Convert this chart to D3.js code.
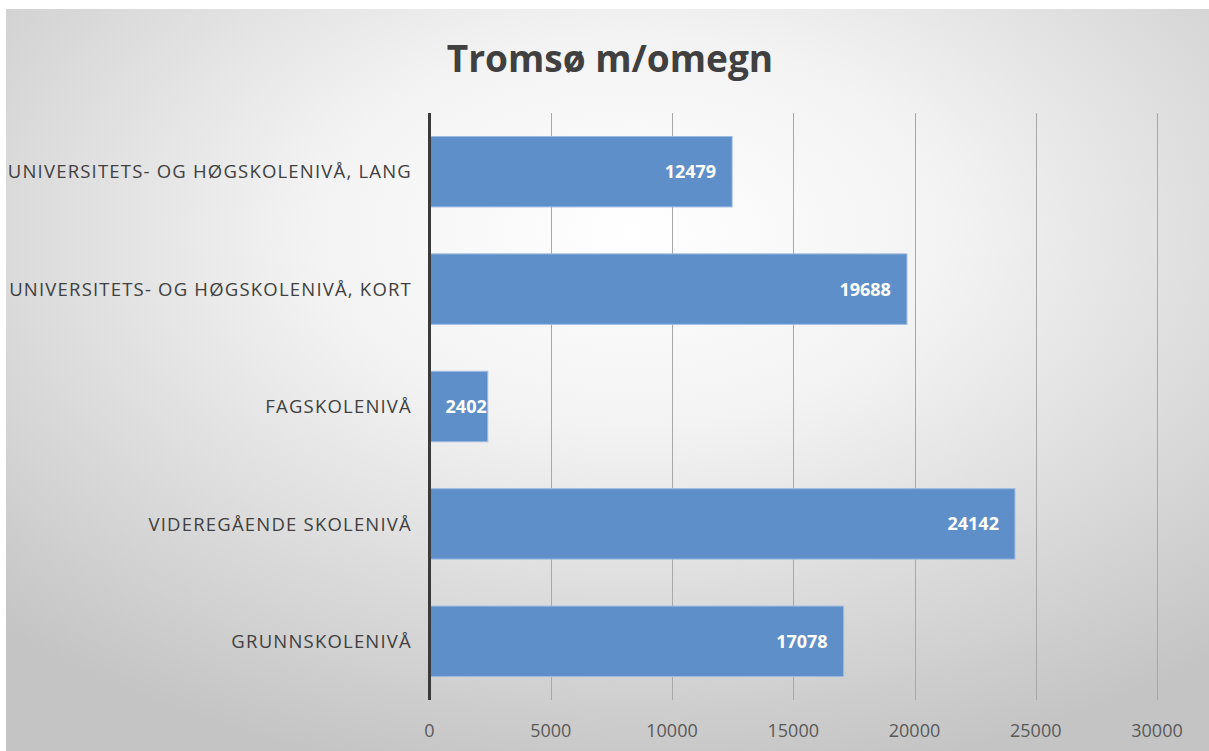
<!DOCTYPE html>
<html>
<head>
<meta charset="utf-8">
<script src="https://cdn.jsdelivr.net/npm/d3@7"></script>
<style>
    body { margin: 0; background: #ffffff; }
    svg { display: block; }
</style>
</head>
<body>
<script>
//execute script when window is loaded
window.onload = function(){

    //SVG dimension variables
    var w = 1209, h = 751;

    //categories, top to bottom
    var categories = [
        "UNIVERSITETS- OG HØGSKOLENIVÅ, LANG",
        "UNIVERSITETS- OG HØGSKOLENIVÅ, KORT",
        "FAGSKOLENIVÅ",
        "VIDEREGÅENDE SKOLENIVÅ",
        "GRUNNSKOLENIVÅ"
    ];

    //values for each category
    var values = [12479, 19688, 2402, 24142, 17078];

    //x axis tick values
    var ticks = [0, 5000, 10000, 15000, 20000, 25000, 30000];

    var data = categories.map(function(c, i){
        return { cat: c, value: values[i] };
    });

    //create the SVG container
    var container = d3.select("body")
        .append("svg")
        .attr("width", w)
        .attr("height", h);

    //background gradient
    var defs = container.append("defs");
    var grad = defs.append("radialGradient")
        .attr("id", "bg")
        .attr("cx", "52%")
        .attr("cy", "30%")
        .attr("r", "75%");
    grad.append("stop").attr("offset", "0%").attr("stop-color", "#ffffff");
    grad.append("stop").attr("offset", "35%").attr("stop-color", "#f3f3f3");
    grad.append("stop").attr("offset", "100%").attr("stop-color", "#c4c4c4");

    container.append("rect")
        .attr("x", 6)
        .attr("y", 9)
        .attr("width", w - 6)
        .attr("height", h - 9)
        .style("fill", "url(#bg)");

    //create x scale
    var x = d3.scaleLinear()
        .domain([0, 30000])
        .range([429.5, 1157]);

    //create y scale
    var y = d3.scaleBand()
        .domain(categories)
        .range([113, 700])
        .paddingInner(0.4)
        .paddingOuter(0.2);

    //gridlines
    container.selectAll(".grid")
        .data(ticks.slice(1))
        .enter()
        .append("line")
        .attr("class", "grid")
        .attr("x1", function(d){ return Math.round(x(d)) + 0.5; })
        .attr("x2", function(d){ return Math.round(x(d)) + 0.5; })
        .attr("y1", 113)
        .attr("y2", 700)
        .style("stroke", "#a8a8a8")
        .style("stroke-width", 1);

    //bars
    container.selectAll(".bar")
        .data(data)
        .enter()
        .append("rect")
        .attr("class", "bar")
        .attr("x", x(0))
        .attr("y", function(d){ return y(d.cat); })
        .attr("width", function(d){ return x(d.value) - x(0); })
        .attr("height", y.bandwidth())
        .style("fill", "#5f8fc8")
        .style("stroke", "#9dbbe3")
        .style("stroke-width", 1);

    //vertical axis line
    container.append("line")
        .attr("x1", x(0))
        .attr("x2", x(0))
        .attr("y1", 113)
        .attr("y2", 700)
        .style("stroke", "#3a3a3a")
        .style("stroke-width", 3);

    //category labels
    container.selectAll(".catLabel")
        .data(categories)
        .enter()
        .append("text")
        .attr("class", "catLabel")
        .attr("x", 412)
        .attr("y", function(d){ return y(d) + y.bandwidth() / 2; })
        .attr("dy", "0.36em")
        .attr("text-anchor", "end")
        .style("font-family", "'Open Sans', sans-serif")
        .style("font-size", "18.5px")
        .style("letter-spacing", "1.2px")
        .style("fill", "#404040")
        .text(function(d){ return d; });

    //value labels
    container.selectAll(".valLabel")
        .data(data)
        .enter()
        .append("text")
        .attr("class", "valLabel")
        .attr("y", function(d){ return y(d.cat) + y.bandwidth() / 2; })
        .attr("dy", "0.36em")
        .attr("text-anchor", "end")
        .style("font-family", "'Open Sans', sans-serif")
        .style("font-weight", "bold")
        .style("font-size", "18px")
        .style("fill", "#ffffff")
        .text(function(d){ return d.value; })
        .each(function(d){
            var tw = this.getComputedTextLength();
            var barW = x(d.value) - x(0);
            var gap = barW < tw + 30 ? 1 : 16;
            d3.select(this).attr("x", x(d.value) - gap);
        });

    //tick labels
    container.selectAll(".tick")
        .data(ticks)
        .enter()
        .append("text")
        .attr("class", "tick")
        .attr("x", function(d){ return x(d); })
        .attr("y", 737)
        .attr("text-anchor", "middle")
        .style("font-family", "'Open Sans', sans-serif")
        .style("font-size", "18px")
        .style("fill", "#595959")
        .text(function(d){ return d; });

    //chart title
    container.append("text")
        .attr("x", 610)
        .attr("y", 72)
        .attr("text-anchor", "middle")
        .style("font-family", "'Open Sans', sans-serif")
        .style("font-weight", "bold")
        .style("font-size", "37px")
        .style("fill", "#404040")
        .text("Tromsø m/omegn");

};
</script>
</body>
</html>
